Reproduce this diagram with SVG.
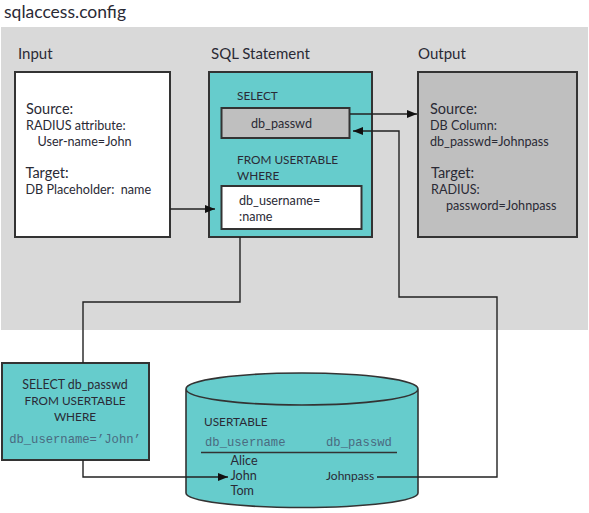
<svg xmlns="http://www.w3.org/2000/svg" width="589" height="513" viewBox="0 0 589 513">
<style>
text{font-family:Lato,"Open Sans","Liberation Sans",sans-serif;fill:#2a2a35;font-size:12.600px;white-space:pre}
.h{font-size:15px}
.t{font-size:14.500px}
.c{font-size:11.800px}
.m{font-family:"Liberation Mono",monospace;font-size:12.200px;fill:#4a6a80}
.box{stroke:#333;stroke-width:2}
.teal{fill:#66cccc}
.wire{fill:none;stroke:#222;stroke-width:1.4}
</style>
<defs>
<marker id="a" markerUnits="userSpaceOnUse" markerWidth="11" markerHeight="8" refX="10" refY="4" orient="auto"><path d="M0 0L10 4L0 8Z" fill="#111"/></marker>
</defs>
<text x="4" y="18" style="font-size:17.500px">sqlaccess.config</text>
<rect id="panel" x="1" y="27" width="587" height="303" fill="#d9d9d9"/>
<g id="input">
<text class="h" x="18" y="59">Input</text>
<rect class="box" x="15" y="72" width="155" height="165" fill="#fff"/>
<text class="t" x="26" y="114">Source:</text>
<text x="26" y="130">RADIUS attribute:</text>
<text x="37.500" y="146">User-name=John</text>
<text class="t" x="25.500" y="178">Target:</text>
<text x="25.500" y="194">DB Placeholder:  name</text>
</g>
<g id="sql">
<text class="h" x="211" y="59">SQL Statement</text>
<rect class="box teal" x="209" y="72" width="163" height="165"/>
<text class="c" x="237" y="100">SELECT</text>
<rect class="box" x="221.500" y="108" width="128" height="30" fill="#bfbfbf"/>
<text x="251" y="128">db_passwd</text>
<text class="c" x="237" y="164">FROM USERTABLE</text>
<text class="c" x="237" y="180">WHERE</text>
<rect class="box" x="221.500" y="186" width="140" height="43" fill="#fff"/>
<text x="239" y="205">db_username=</text>
<text x="239" y="221">:name</text>
</g>
<g id="output">
<text class="h" x="418" y="59">Output</text>
<rect class="box" x="418" y="72" width="159" height="165" fill="#bfbfbf"/>
<text class="t" x="430" y="114">Source:</text>
<text x="430" y="130">DB Column:</text>
<text x="430" y="146">db_passwd=Johnpass</text>
<text class="t" x="431" y="178">Target:</text>
<text x="431" y="194">RADIUS:</text>
<text x="446" y="210">password=Johnpass</text>
</g>
<g id="query">
<rect class="box teal" x="2" y="363" width="147" height="97"/>
<text x="75" y="389" text-anchor="middle" style="font-size:12.400px">SELECT db_passwd</text>
<text class="c" x="75" y="405" text-anchor="middle">FROM USERTABLE</text>
<text class="c" x="75" y="421" text-anchor="middle">WHERE</text>
<text class="m" x="75" y="443" text-anchor="middle">db_username=’John’</text>
</g>
<g id="usertable">
<path class="teal" stroke="#333" stroke-width="1.6" d="M186 389V493C186 501 238 507.500 302 507.500S418 501 418 493V389C418 380 366 373 302 373S186 380 186 389C186 398 238 405 302 405S418 398 418 389"/>
<text class="c" x="204" y="426">USERTABLE</text>
<text class="m" x="205" y="446">db_username</text>
<text class="m" x="326" y="446">db_passwd</text>
<path d="M201 452.500H397" stroke="#333" stroke-width="1.500"/>
<text x="230.500" y="465">Alice</text>
<text x="230.500" y="480">John</text>
<text x="230.500" y="495">Tom</text>
<text x="326" y="480" style="font-size:12px">Johnpass</text>
</g>
<g id="connectors">
<path class="wire" marker-end="url(#a)" d="M170 209H215"/>
<path class="wire" marker-end="url(#a)" d="M350 114H417"/>
<path class="wire" d="M240 237V302H83V363"/>
<path class="wire" marker-end="url(#a)" d="M83 460V477H228"/>
<path class="wire" marker-end="url(#a)" d="M377 477H497V297H399V131H353"/>
</g>
</svg>
